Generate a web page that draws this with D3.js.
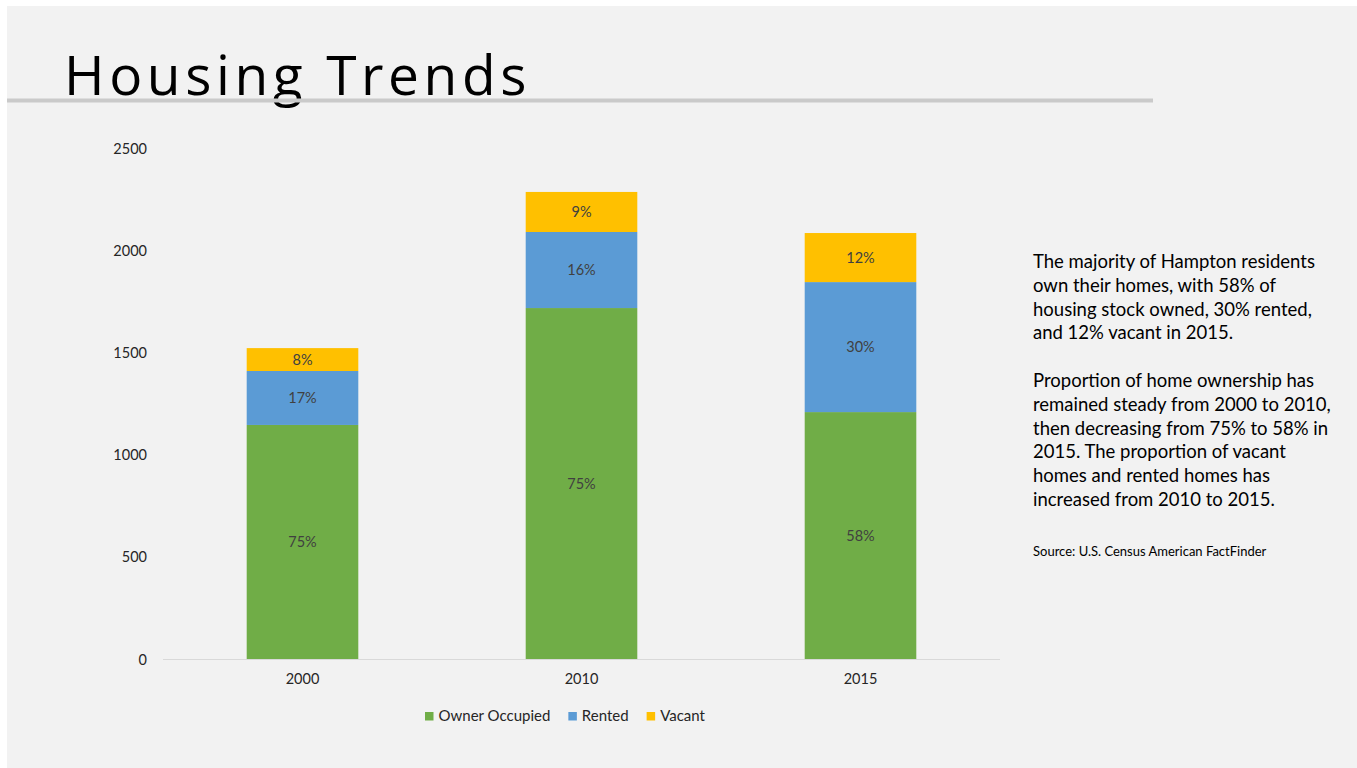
<!DOCTYPE html>
<html><head><meta charset="utf-8">
<script src="https://cdn.jsdelivr.net/npm/d3@7"></script>
<style>
html,body{margin:0;padding:0;background:#fff;}
svg{display:block;}
</style></head>
<body>
<svg id="c" width="1357" height="768"></svg>
<script>
const years = ["2000", "2010", "2015"];
const seriesNames = ["Owner Occupied", "Rented", "Vacant"];
const ownerOccupied = [1145, 1717, 1208];
const rented = [264, 372, 636];
const vacant = [112, 196, 240];
const ownerLabels = ["75%", "75%", "58%"];
const rentedLabels = ["17%", "16%", "30%"];
const vacantLabels = ["8%", "9%", "12%"];
const yTicks = [0, 500, 1000, 1500, 2000, 2500];
const colors = ["#70ad47", "#5b9bd5", "#ffc000"];
const titleText = "Housing Trends";
const paragraph1 = ["The majority of Hampton residents", "own their homes, with 58% of", "housing stock owned, 30% rented,", "and 12% vacant in 2015."];
const paragraph2 = ["Proportion of home ownership has", "remained steady from 2000 to 2010,", "then decreasing from 75% to 58% in", "2015. The proportion of vacant", "homes and rented homes has", "increased from 2010 to 2015."];
const sourceText = "Source: U.S. Census American FactFinder";

const FONT = "Lato, 'Open Sans', sans-serif";
const svg = d3.select("#c");
svg.append("rect").attr("x", 7).attr("y", 6).attr("width", 1350).attr("height", 762).attr("fill", "#f2f2f2");

// title
svg.append("text").attr("x", 64).attr("y", 95).text(titleText)
  .attr("font-family", "'Open Sans', Lato, sans-serif").attr("font-weight", 400)
  .attr("font-size", 55).attr("letter-spacing", "4.6px").attr("fill", "#000");
svg.append("rect").attr("x", 7).attr("y", 98.5).attr("width", 1146).attr("height", 4).attr("fill", "#cacaca");

// chart
const x = d3.scaleBand().domain(years).range([163, 1000]).paddingInner(0.6).paddingOuter(0.3);
const y = d3.scaleLinear().domain([0, 2500]).range([659, 148]);

const table = years.map((yr, i) => ({year: yr, "Owner Occupied": ownerOccupied[i], "Rented": rented[i], "Vacant": vacant[i],
  labels: [ownerLabels[i], rentedLabels[i], vacantLabels[i]]}));
const stack = d3.stack().keys(seriesNames)(table);

// y axis labels
const yAxis = d3.axisLeft(y).tickValues(yTicks).tickSize(0).tickPadding(0).tickFormat(d3.format("d"));
const ya = svg.append("g").attr("transform", "translate(147,0)").call(yAxis);
ya.select(".domain").remove();
ya.selectAll("text").attr("font-family", FONT).attr("font-size", 14.5).attr("fill", "#262626").attr("dy", "0.35em");

// baseline
const xAxis = d3.axisBottom(x).tickSize(0).tickPadding(15);
const xa = svg.append("g").attr("transform", "translate(0,659)").call(xAxis);
xa.select(".domain").attr("stroke", "#d9d9d9").attr("stroke-width", 1).attr("d", "M163,0.5H1000");
xa.selectAll("text").attr("font-family", FONT).attr("font-size", 14.5).attr("fill", "#262626");

stack.forEach((layer, si) => {
  const g = svg.append("g");
  g.selectAll("rect").data(layer).join("rect")
    .attr("x", d => x(d.data.year)).attr("width", x.bandwidth())
    .attr("y", d => y(d[1])).attr("height", d => y(d[0]) - y(d[1]))
    .attr("fill", colors[si]);
  g.selectAll("text").data(layer).join("text")
    .attr("x", d => x(d.data.year) + x.bandwidth() / 2)
    .attr("y", d => (y(d[0]) + y(d[1])) / 2)
    .attr("dy", "0.35em").attr("text-anchor", "middle")
    .attr("font-family", FONT).attr("font-size", 14.5).attr("fill", "#404040")
    .text(d => d.data.labels[si]);
});

// legend
const leg = svg.append("g");
let lx = 425;
seriesNames.forEach((s, i) => {
  leg.append("rect").attr("x", lx).attr("y", 712).attr("width", 8.5).attr("height", 8.5).attr("fill", colors[i]);
  const t = leg.append("text").attr("x", lx + 13.5).attr("y", 716).attr("dy", "0.35em")
    .attr("font-family", FONT).attr("font-size", 15).attr("fill", "#262626").text(s);
  lx += 13.5 + t.node().getComputedTextLength() + 18;
});

// text panel
const tp = svg.append("g").attr("font-family", FONT).attr("font-size", 18.5).attr("fill", "#000");
paragraph1.forEach((l, i) => tp.append("text").attr("x", 1033).attr("y", 268 + i * 23.8).text(l));
paragraph2.forEach((l, i) => tp.append("text").attr("x", 1033).attr("y", 387 + i * 23.8).text(l));
svg.append("text").attr("x", 1033).attr("y", 556).attr("font-family", FONT).attr("font-size", 13).attr("fill", "#000").text(sourceText);
</script>
</body></html>
